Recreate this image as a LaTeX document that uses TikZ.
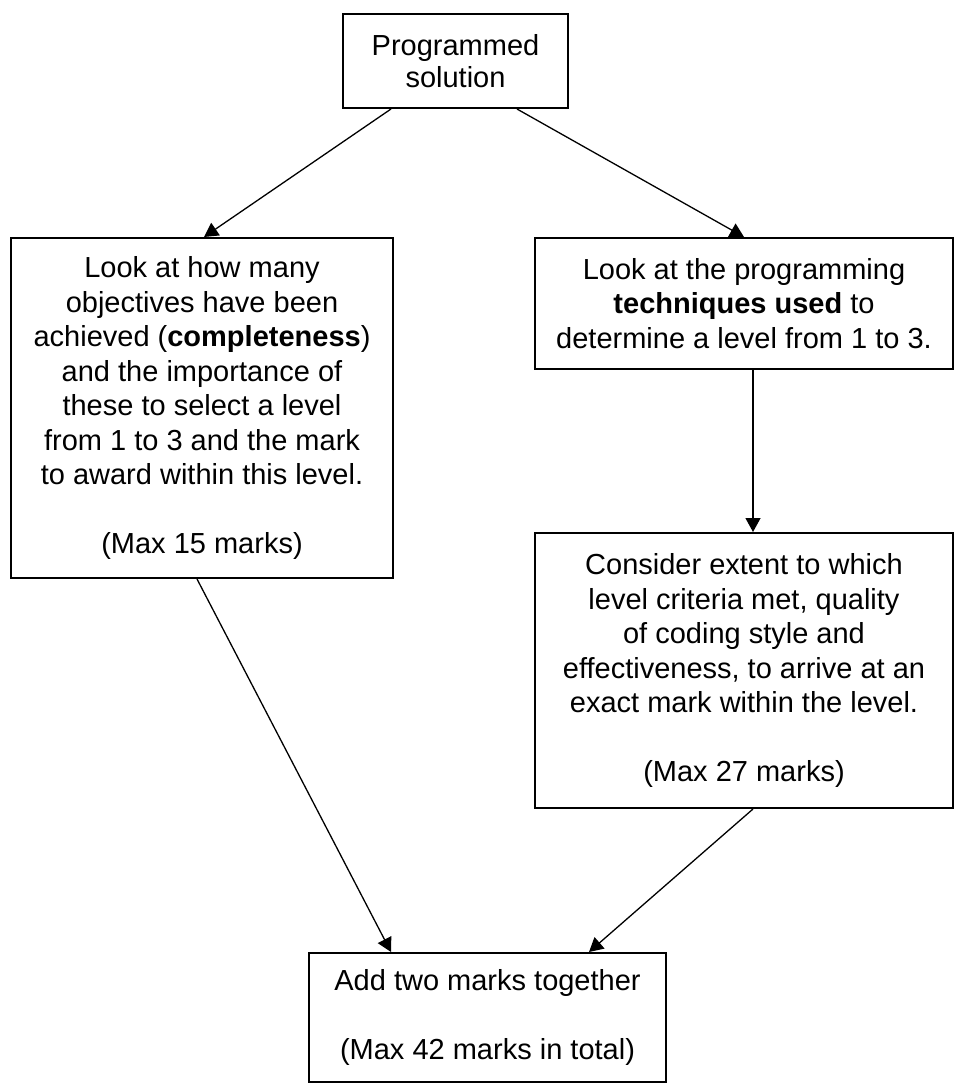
\documentclass[tikz,border=0pt]{standalone}
\usepackage{fontspec}
\setmainfont{Liberation Sans}
\usetikzlibrary{arrows.meta}
\tikzset{
  box/.style={draw, line width=2pt, inner sep=0pt, align=center,
    font=\fontsize{29}{34.5}\selectfont},
  conn/.style={line width=1.3pt, -{Triangle[length=14pt,width=15pt]}}
}
\begin{document}
\begin{tikzpicture}[x=1pt,y=-1pt]
\useasboundingbox (0,0) rectangle (955,1083);
\node[box, minimum width=225pt, minimum height=94pt,
  font=\fontsize{29}{32}\selectfont] (top) at (455.5,61) {Programmed\\solution};
\node[box, minimum width=382pt, minimum height=340pt] (left) at (202,408)
  {Look at how many\\objectives have been\\achieved (\textbf{completeness})\\and the importance of\\these to select a level\\from 1 to 3 and the mark\\to award within this level.\\\mbox{}\\(Max 15 marks)};
\node[box, minimum width=418pt, minimum height=131pt] (ru) at (744,303.5)
  {Look at the programming\\\textbf{techniques used} to\\determine a level from 1 to 3.};
\node[box, minimum width=418pt, minimum height=275pt] (rl) at (744,670.5)
  {Consider extent to which\\level criteria met, quality\\of coding style and\\effectiveness, to arrive at an\\exact mark within the level.\\\mbox{}\\(Max 27 marks)};
\node[box, minimum width=357pt, minimum height=129pt] (bot) at (487.5,1017.5)
  {Add two marks together\\\mbox{}\\(Max 42 marks in total)};
\draw[conn] ([xshift=49pt]top.south west) -- ([xshift=2pt]left.north);
\draw[conn] ([xshift=175pt]top.south west) -- (ru.north);
\draw[conn] ([xshift=9pt]ru.south) -- ([xshift=9pt]rl.north);
\draw[conn] ([xshift=-5pt]left.south) -- ([xshift=83pt]bot.north west);
\draw[conn] ([xshift=9pt]rl.south) -- ([xshift=281pt]bot.north west);
\end{tikzpicture}
\end{document}
